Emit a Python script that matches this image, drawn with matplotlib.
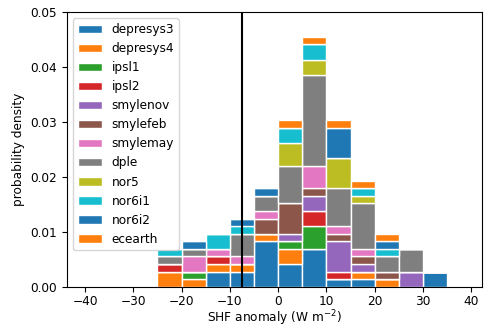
import matplotlib
matplotlib.use("Agg")
import matplotlib.pyplot as plt
import numpy as np

plt.rcParams['font.size'] = 8.7

edges = np.arange(-25, 36, 5)
centres = edges[:-1] + 2.5

models = ['depresys3', 'depresys4', 'ipsl1', 'ipsl2', 'smylenov', 'smylefeb',
          'smylemay', 'dple', 'nor5', 'nor6i1', 'nor6i2', 'ecearth']

# counts per 5 W m-2 bin, bins -25..30
depresys3 = [0, 0, 2, 2, 6, 3, 5, 1, 1, 0, 0, 2]
depresys4 = [2, 1, 1, 1, 1, 2, 0, 0, 1, 1, 0, 0]
ipsl1 = [0, 1, 0, 0, 0, 1, 3, 0, 0, 0, 0, 0]
ipsl2 = [1, 0, 1, 0, 0, 0, 2, 1, 0, 0, 0, 0]
smylenov = [0, 0, 0, 0, 0, 1, 2, 4, 1, 0, 2, 0]
smylefeb = [0, 0, 0, 0, 2, 4, 1, 1, 1, 1, 0, 0]
smylemay = [0, 2, 1, 1, 1, 0, 3, 1, 1, 0, 0, 0]
dple = [1, 1, 0, 3, 2, 5, 12, 5, 6, 2, 3, 0]
nor5 = [0, 0, 0, 0, 0, 3, 2, 4, 1, 0, 0, 0]
nor6i1 = [1, 0, 2, 1, 0, 2, 2, 0, 1, 1, 0, 0]
nor6i2 = [0, 1, 0, 1, 1, 0, 0, 4, 0, 1, 0, 0]
ecearth = [0, 0, 0, 0, 0, 1, 1, 1, 1, 1, 0, 0]

counts = [depresys3, depresys4, ipsl1, ipsl2, smylenov, smylefeb,
          smylemay, dple, nor5, nor6i1, nor6i2, ecearth]

obs = -7.5

fig = plt.figure(figsize=(4.85, 3.28), dpi=100)
ax = fig.add_axes([0.1375, 0.126, 0.856, 0.8365])

cols = [f'C{i % 10}' for i in range(len(models))]
ax.hist([centres] * len(models), bins=edges, weights=counts, stacked=True,
        density=True, color=cols, label=models, edgecolor='white', linewidth=1)
ax.axvline(obs, color='k', lw=1.5)

ax.set_xlim(-43.8, 42.2)
ax.set_ylim(0, 0.05)
ax.set_xticks(np.arange(-40, 41, 10))
ax.tick_params(axis='x', pad=2.5)
ax.set_xlabel(r'SHF anomaly (W m$^{-2}$)', labelpad=0)
ax.set_ylabel('probability density')
ax.legend(loc='upper left')

fig.savefig('out.png', dpi=100)
